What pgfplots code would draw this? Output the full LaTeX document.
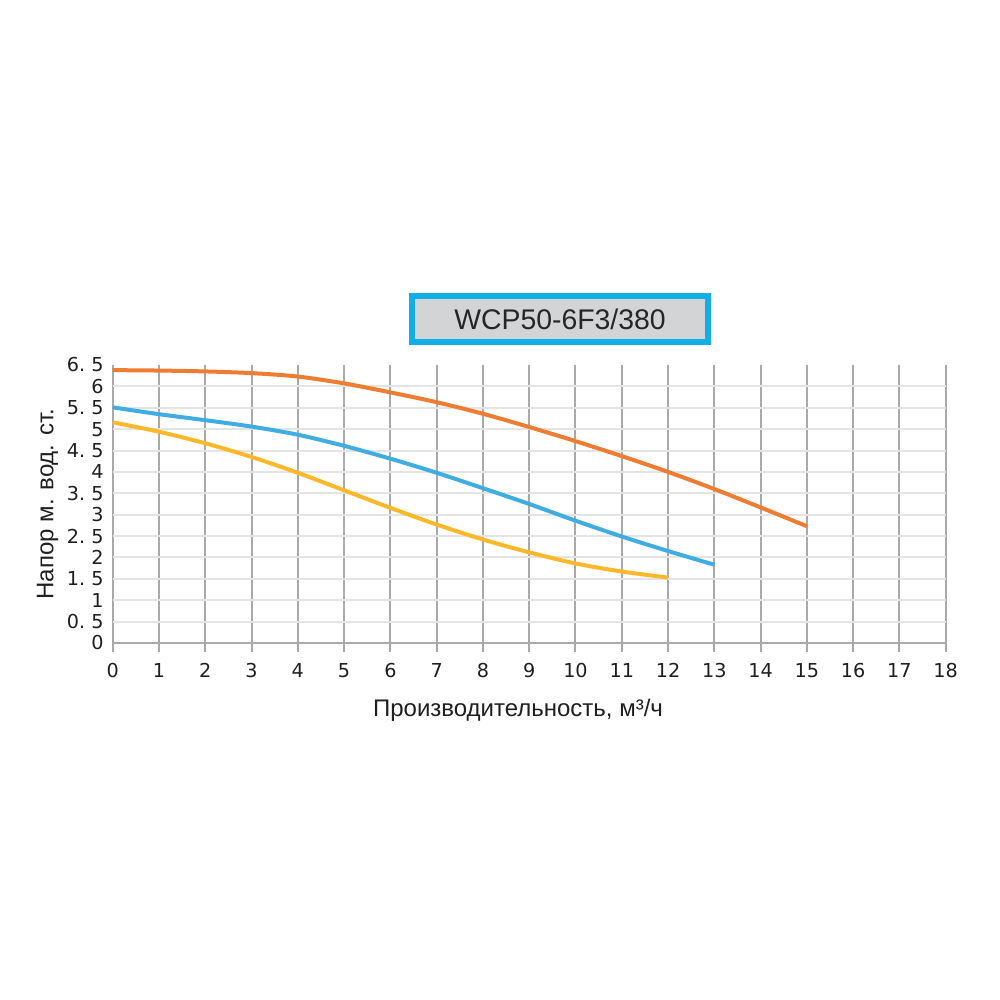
\documentclass[border=0pt]{standalone}
\usepackage{fontspec}
\setmainfont{Liberation Sans}
\newfontfamily\tickfont{DejaVu Sans}
\usepackage{pgfplots}
\pgfplotsset{compat=1.18}
\definecolor{orangeC}{HTML}{EE7D31}
\definecolor{blueC}{HTML}{3FADE2}
\definecolor{yellowC}{HTML}{FBB82A}
\definecolor{vgrid}{HTML}{A8A9AD}
\definecolor{hgrid}{HTML}{E4E4E4}
\definecolor{boxfill}{HTML}{D3D4D6}
\definecolor{boxdraw}{HTML}{12AEEA}
\begin{document}
\begin{tikzpicture}
\useasboundingbox (0,0) rectangle (500pt,500pt);
\begin{axis}[
  at={(56.35pt,178.5pt)}, anchor=south west,
  scale only axis, width=416.5pt, height=139pt,
  xmin=0, xmax=18, ymin=0, ymax=6.5,
  axis x line*=bottom, axis y line*=left,
  y axis line style={draw=none},
  x axis line style={vgrid, line width=1pt, -},
  xtick={0,1,2,3,4,5,6,7,8,9,10,11,12,13,14,15,16,17,18},
  xticklabels={0,1,2,3,4,5,6,7,8,9,10,11,12,13,14,15,16,17,18},
  ytick={0.5,1,1.5,2,2.5,3,3.5,4,4.5,5,5.5,6},
  yticklabels={0.\ 5,1,1.\ 5,2,2.\ 5,3,3.\ 5,4,4.\ 5,5,5.\ 5,6},
  extra y ticks={0,6.5},
  extra y tick labels={0,6.\ 5},
  extra y tick style={grid=none},
  xmajorgrids, ymajorgrids,
  x grid style={vgrid, line width=1pt},
  y grid style={hgrid, line width=1pt},
  tick align=outside,
  major tick length=4.5pt,
  xtick style={vgrid, line width=1pt},
  ytick style={draw=none},
  ticklabel style={font=\tickfont\fontsize{9.6}{11}\selectfont, text=black!88},
  xticklabel style={yshift=-2pt},
  yticklabel style={xshift=3.5pt},
  xlabel={Производительность, м³/ч},
  ylabel={Напор м. вод. ст.},
  xlabel style={at={(axis description cs:0.4866,-0.241)}, anchor=center, font=\fontsize{12}{14}\selectfont, text=black!88},
  ylabel style={at={(axis description cs:-0.078,0.5)}, anchor=center, font=\fontsize{12}{14}\selectfont, text=black!88},
  clip=false,
]
\addplot[orangeC, line width=2pt, smooth] coordinates {(0,6.38)(1,6.37)(2,6.35)(3,6.31)(4,6.23)(5,6.07)(6,5.86)(7,5.63)(8,5.36)(9,5.05)(10,4.72)(11,4.37)(12,4.00)(13,3.60)(14,3.17)(15,2.73)};
\addplot[blueC, line width=2pt, smooth] coordinates {(0,5.51)(1,5.35)(2,5.21)(3,5.06)(4,4.87)(5,4.61)(6,4.31)(7,3.98)(8,3.62)(9,3.25)(10,2.86)(11,2.49)(12,2.15)(13,1.83)};
\addplot[yellowC, line width=2pt, smooth] coordinates {(0,5.16)(1,4.94)(2,4.67)(3,4.35)(4,3.98)(5,3.57)(6,3.16)(7,2.77)(8,2.42)(9,2.12)(10,1.86)(11,1.67)(12,1.53)};
\node[draw=boxdraw, line width=3pt, fill=boxfill, minimum width=148pt, minimum height=23pt, inner sep=0pt, font=\fontsize{14.2}{16}\selectfont, text=black!85] at (axis description cs:0.537,1.1655) {WCP50-6F3/380};
\end{axis}
\end{tikzpicture}
\end{document}
